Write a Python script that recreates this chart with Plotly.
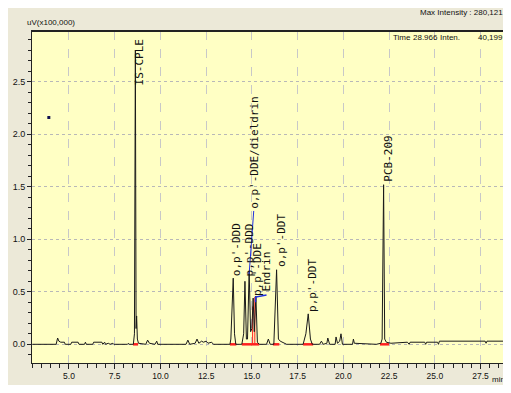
import plotly.graph_objects as go

# ---- data ----
time_min = [3.0, 4.3, 4.38, 4.45, 4.55, 4.75, 4.8, 5.1, 5.15, 5.5, 5.55, 5.85, 5.9, 5.95, 6.3, 6.35, 6.8, 6.85,
            6.95, 7.0, 7.15, 7.25, 7.4, 7.45, 8.2, 8.25, 8.3, 8.52,
            8.58, 8.63, 8.67, 8.7, 8.74, 8.8, 9.2, 9.3, 9.4, 9.7, 9.8, 9.85,
            11.4, 11.5, 11.6, 11.9, 12.0, 12.1, 12.25, 12.35, 12.5, 12.6, 12.8, 12.9, 13.8,
            13.85, 13.98, 14.05, 14.12, 14.45, 14.55, 14.62, 14.7, 14.76, 14.85, 14.93, 15.0, 15.07, 15.13,
            15.22, 15.3, 15.4, 15.8, 15.9, 16.0, 16.2, 16.35, 16.45, 16.55, 16.7, 16.9,
            17.8, 17.95, 18.08, 18.2, 18.3, 18.7, 18.8, 18.9, 19.1, 19.15, 19.25, 19.55, 19.6, 19.68, 19.8,
            19.87, 19.95, 20.5, 20.55, 20.6, 21.8, 22.05, 22.12, 22.2, 22.26, 22.35, 22.6,
            23.5, 23.6, 23.65, 24.45, 24.5, 24.55, 25.15, 25.2, 25.25, 27.75, 27.8, 27.85, 29.0]
intensity = [0.0, 0.0, 0.06, 0.03, 0.02, 0.02, 0.0, 0.0, 0.02, 0.02, 0.0, 0.0, 0.02, 0.0, 0.0, 0.02, 0.02, 0.0,
             0.02, 0.0, 0.01, 0.0, 0.01, 0.0, 0.0, 0.01, 0.0, 0.0,
             0.1, 2.80, 0.15, 0.27, 0.05, 0.01, 0.0, 0.04, 0.01, 0.0, 0.03, 0.0,
             0.0, 0.04, 0.0, 0.01, 0.05, 0.01, 0.03, 0.02, 0.03, 0.01, 0.02, 0.0, 0.0,
             0.05, 0.63, 0.1, 0.0, 0.0, 0.1, 0.60, 0.05, 0.05, 0.70, 0.12, 0.15, 0.44, 0.12,
             0.46, 0.02, 0.0, 0.0, 0.05, 0.0, 0.0, 0.71, 0.05, 0.03, 0.02, 0.0,
             0.0, 0.1, 0.29, 0.05, 0.0, 0.0, 0.03, 0.0, 0.01, 0.06, 0.0, 0.0, 0.07, 0.01, 0.03,
             0.1, 0.0, 0.0, 0.05, 0.01, 0.0, 0.01, 0.05, 1.52, 0.05, 0.02, 0.01,
             0.02, 0.0, 0.02, 0.02, 0.0, 0.02, 0.02, 0.0, 0.03, 0.03, 0.01, 0.03, 0.03]

peak_names = ["IS-CPLE", "o,p'-DDD", "p,p'-DDD", "o,p'-DDE/dieldrin", "p,p'-DDE",
              "Endrin", "o,p'-DDT", "p,p'-DDT", "PCB-209"]
label_x = [8.85, 14.16, 14.89, 15.14, 15.31, 15.80, 16.58, 18.32, 22.50]
label_y = [2.46, 0.64, 0.64, 1.28, 0.45, 0.49, 0.73, 0.30, 1.54]

# integration baselines (start, end) and peak-split markers (time, height)
base_start = [8.50, 13.80, 14.45, 16.15, 17.80, 22.00]
base_end = [8.78, 14.15, 15.40, 16.50, 18.35, 22.50]
split_t = [15.04, 15.16]
split_h = [0.36, 0.45]

# blue label leader lines
lead1_t = [14.85, 15.10]
lead1_y = [0.67, 1.27]
lead2_t = [15.20, 15.20, 15.80]
lead2_y = [0.40, 0.45, 0.47]

x_ticks = [5.0, 7.5, 10.0, 12.5, 15.0, 17.5, 20.0, 22.5, 25.0, 27.5]
y_ticks = [0.0, 0.5, 1.0, 1.5, 2.0, 2.5]

FONT = "Liberation Sans, Arial, sans-serif"
LABEL_FONT = "DejaVu Sans Mono, monospace"

# page pixel -> paper coords (plot area on page: x 32..508, y 31..363)
def px(x):
    return (x - 32) / 476

def py(y):
    return (363 - y) / 332

fig = go.Figure()

# red integration marks
rx, ry = [], []
for s, e in zip(base_start, base_end):
    rx += [s, e, None]
    ry += [0.0, 0.0, None]
fig.add_trace(go.Scatter(x=rx, y=ry, mode="lines", line=dict(color="#ff2020", width=2.5),
                         hoverinfo="skip", showlegend=False))
vx, vy = [], []
for t, h in zip(split_t, split_h):
    vx += [t, t, None]
    vy += [0.0, h, None]
fig.add_trace(go.Scatter(x=vx, y=vy, mode="lines", line=dict(color="#ff2020", width=1),
                         hoverinfo="skip", showlegend=False))

# chromatogram
fig.add_trace(go.Scatter(x=time_min, y=intensity, mode="lines",
                         line=dict(color="#1a1a1a", width=1), showlegend=False))

# blue leaders
fig.add_trace(go.Scatter(x=lead1_t, y=lead1_y, mode="lines", line=dict(color="#2030e0", width=1),
                         showlegend=False))
fig.add_trace(go.Scatter(x=lead2_t, y=lead2_y, mode="lines", line=dict(color="#2030e0", width=1.5),
                         showlegend=False))

# little dot
fig.add_trace(go.Scatter(x=[3.9], y=[2.16], mode="markers",
                         marker=dict(color="#101050", size=3, symbol="square"), showlegend=False))

for name, lx, ly in zip(peak_names, label_x, label_y):
    fig.add_annotation(x=lx, y=ly, text=name, textangle=-90, showarrow=False,
                       xanchor="center", yanchor="bottom", borderpad=0,
                       font=dict(family=LABEL_FONT, size=11, color="#111"))

# thick top border
fig.add_shape(type="line", xref="paper", yref="paper", x0=0, x1=1, y0=1, y1=1,
              line=dict(color="#222", width=2))

small = dict(family=FONT, size=9, color="#111")
tiny = dict(family=FONT, size=8, color="#111")
fig.add_annotation(xref="paper", yref="paper", x=px(505), y=py(13), text="Max Intensity : 280,121",
                   showarrow=False, xanchor="right", yanchor="middle", font=tiny)
fig.add_annotation(xref="paper", yref="paper", x=px(25), y=py(22), text="uV(x100,000)",
                   showarrow=False, xanchor="left", yanchor="middle", font=tiny)
for txt, xx, anc in [("Time", 402, "center"), ("28.966", 425, "center"), ("Inten.", 450, "center"),
                     ("40,199", 505, "right")]:
    fig.add_annotation(xref="paper", yref="paper", x=px(xx), y=py(37), text=txt,
                       showarrow=False, xanchor=anc, yanchor="middle", font=tiny)
fig.add_annotation(xref="paper", yref="paper", x=px(507), y=py(379), text="min",
                   showarrow=False, xanchor="right", yanchor="middle", font=tiny)

fig.update_layout(
    width=503, height=377,
    margin=dict(l=24, r=3, t=23, b=22, autoexpand=False),
    paper_bgcolor="#ECE9D8", plot_bgcolor="#FFFFC4",
    showlegend=False,
    xaxis=dict(range=[2.98, 29.0], tickmode="array", tickvals=x_ticks, automargin=False,
               ticktext=[f"{v:.1f}" for v in x_ticks],
               showgrid=True, gridcolor="#c8c8c8", griddash="dash", gridwidth=1,
               zeroline=False, showline=True, linecolor="#222", linewidth=1, mirror=True,
               ticks="outside", ticklen=5, tickcolor="#222",
               minor=dict(dtick=0.5, tick0=0, ticks="outside", ticklen=4, tickcolor="#222", showgrid=False),
               tickfont=dict(family=FONT, size=8.5, color="#111")),
    yaxis=dict(range=[-0.178, 2.984], tickmode="array", tickvals=y_ticks, automargin=False,
               ticktext=[f"{v:.1f}" for v in y_ticks],
               showgrid=True, gridcolor="#b8b8b8", griddash="dot", gridwidth=1,
               zeroline=False, showline=True, linecolor="#222", linewidth=1, mirror=True,
               ticks="outside", ticklen=4, tickcolor="#222",
               minor=dict(dtick=0.1, tick0=0, ticks="outside", ticklen=3, tickcolor="#222", showgrid=False),
               tickfont=small),
)

fig.write_html("out.html")
